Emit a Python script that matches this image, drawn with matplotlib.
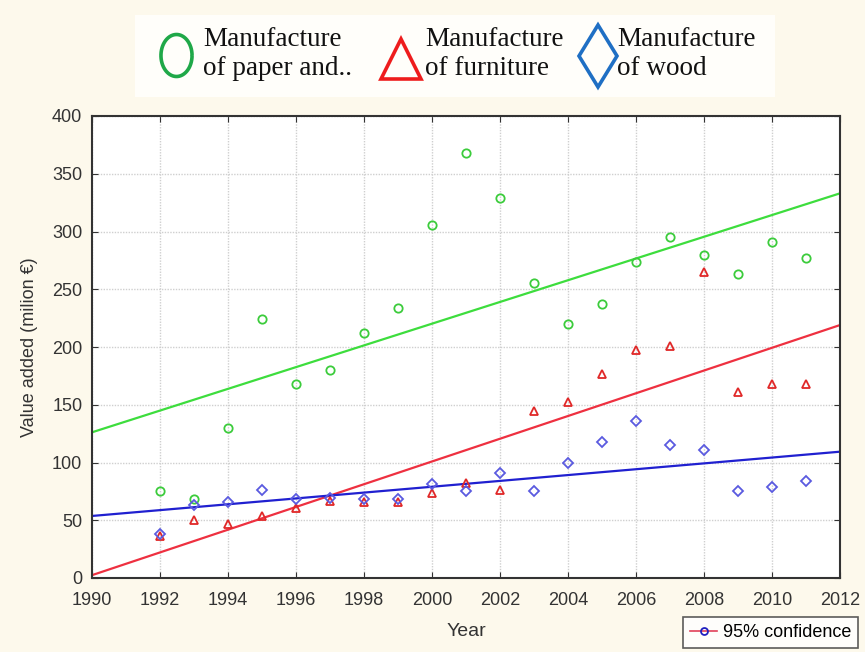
import numpy as np
import matplotlib.pyplot as plt
from matplotlib.lines import Line2D
from matplotlib.patches import Rectangle

# value added (milion €) per year
years = np.arange(1992, 2012)
paper = [75, 68, 130, 224, 168, 180, 212, 234, 306, 368,
         329, 255, 220, 237, 274, 295, 280, 263, 291, 277]
furniture = [36, 50, 47, 54, 61, 67, 66, 66, 74, 82,
             76, 145, 152, 177, 197, 201, 265, 161, 168, 168]
wood = [38, 63, 66, 76, 68, 69, 68, 68, 81, 75,
        91, 75, 100, 118, 136, 115, 111, 75, 79, 84]

names = ['Manufacture\nof paper and..', 'Manufacture\nof furniture', 'Manufacture\nof wood']
point_colors = ['#3ccc3c', '#e02828', '#5a5ae0']
line_colors = ['#3ddd3d', '#ee3040', '#2020d0']
legend_colors = ['#1fa848', '#ee1c1c', '#1f6fc4']
markers = ['o', '^', 'D']
series = [paper, furniture, wood]

W, H = 865, 652
bg = '#fdf9ec'
fig = plt.figure(figsize=(W / 100, H / 100), dpi=100, facecolor=bg)
ax = fig.add_axes([92 / W, 1 - 578 / H, 748 / W, 462 / H])
ax.set_facecolor('white')

xfit = np.array([1990, 2012])
for vals, pc, lc, m in zip(series, point_colors, line_colors, markers):
    ms = 5 if m == 'D' else 6
    ax.plot(years, vals, linestyle='none', marker=m, markersize=ms,
            markerfacecolor='none', markeredgecolor=pc, markeredgewidth=1.3, zorder=3)
    k, b = np.polyfit(years, vals, 1)
    ax.plot(xfit, k * xfit + b, color=lc, lw=1.6, zorder=2)

ax.set_xlim(1990, 2012)
ax.set_ylim(0, 400)
ax.set_xticks(np.arange(1990, 2013, 2))
ax.set_yticks(np.arange(0, 401, 50))
ax.grid(True, color='#cfcfcf', linestyle=(0, (1, 1)), lw=1)
ax.tick_params(direction='in', length=4, top=True, right=True,
               labelsize=13, labelcolor='#333333', color='#333333')
ax.tick_params(axis='x', pad=10)
ax.tick_params(axis='y', pad=7)
for s in ax.spines.values():
    s.set_color('#333333')
    s.set_linewidth(1.5)
for lab in ax.get_xticklabels() + ax.get_yticklabels():
    lab.set_family('Liberation Sans')

ax.set_xlabel('Year', fontsize=14, color='#333333', family='Liberation Sans', labelpad=10)
ax.set_ylabel('Value added (milion €)', fontsize=13, color='#333333',
              family='Liberation Sans', labelpad=10)

# big legend at the top, placed by hand
fig.add_artist(Rectangle((135 / W, 1 - 97 / H), 640 / W, 82 / H, transform=fig.transFigure,
                         facecolor='#fffefa', edgecolor='none', zorder=0))
t = np.linspace(0, 2 * np.pi, 60)
ellipse = np.column_stack([0.74 * np.cos(t), np.sin(t)])
leg_markers = [ellipse, '^', 'd']
leg_sizes = [42, 40, 44]
marker_xy = [(176, 55), (401, 59), (598, 56)]
text_x = [203, 425, 617]
for mk, sz, c, (mx, my), tx, name in zip(leg_markers, leg_sizes, legend_colors,
                                         marker_xy, text_x, names):
    fig.add_artist(Line2D([mx / W], [1 - my / H], transform=fig.transFigure, linestyle='none',
                          marker=mk, markersize=sz * 0.72, markerfacecolor='none',
                          markeredgecolor=c, markeredgewidth=2.6))
    fig.text(tx / W, 1 - 54 / H, name, ha='left', va='center', fontsize=19.5,
             family='Liberation Serif', linespacing=1.18, color='#111111')

# small legend at the bottom right
conf = Line2D([], [], color='#e0405a', lw=1.2, marker='o', markersize=5,
              markerfacecolor='none', markeredgecolor='#2020c0', markeredgewidth=1.3)
leg2 = fig.legend([conf], ['95% confidence'], loc='upper left',
                  bbox_to_anchor=(683 / W, 1 - 617 / H), borderaxespad=0,
                  frameon=True, fancybox=False, edgecolor='#333333', facecolor='white',
                  handlelength=1.5, handletextpad=0.3, borderpad=0.4,
                  prop={'family': 'Liberation Sans', 'size': 13})
leg2.get_frame().set_linewidth(1.2)

fig.savefig('out.png', dpi=100, facecolor=bg)
